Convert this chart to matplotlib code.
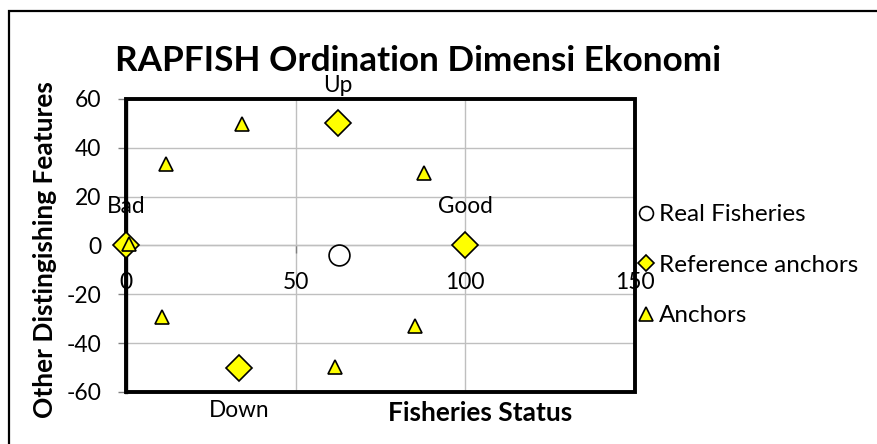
import matplotlib
matplotlib.use("Agg")
import matplotlib.pyplot as plt
from matplotlib.patches import Rectangle
from matplotlib.lines import Line2D

plt.rcParams['font.family'] = ['Lato', 'DejaVu Sans']
plt.rcParams['axes.unicode_minus'] = False

real_x = [62.9]
real_y = [-3.8]
ref_x = [0, 100, 62.4, 33.4]
ref_y = [0, 0, 50, -50]
ref_labels = ["Bad", "Good", "Up", "Down"]
anc_x = [1, 11.8, 34.3, 87.9, 10.5, 61.6, 85.1]
anc_y = [0.7, 33.5, 49.6, 29.8, -29.1, -49.9, -32.8]
xticks = [0, 50, 100, 150]
yticks = [-60, -40, -20, 0, 20, 40, 60]

fig = plt.figure(figsize=(8.77, 4.44), dpi=100)
fig.patches.append(Rectangle((9/877, -0.05), 1.2, 1 - 11/444 + 0.05, transform=fig.transFigure,
                             fill=False, edgecolor='black', lw=1.6))
ax = fig.add_axes([126/877, 1 - 392/444, (635 - 126)/877, (392 - 99)/444])
ax.set_xlim(0, 150)
ax.set_ylim(-60, 60)
ax.set_xticks(xticks)
ax.set_yticks(yticks)
ax.grid(True, color='#BFBFBF', lw=1.0)
ax.set_axisbelow(True)

for s in ['top', 'right']:
    ax.spines[s].set_visible(False)
ax.spines['left'].set_linewidth(2.4)
ax.spines['bottom'].set_position(('data', 0))
ax.spines['bottom'].set_color('#BFBFBF')
ax.spines['bottom'].set_linewidth(1.0)
ax.add_patch(Rectangle((0, 0), 1, 1, transform=ax.transAxes, fill=False,
                       edgecolor='black', lw=2.8, zorder=5, clip_on=False))

ax.tick_params(axis='y', direction='out', length=6, width=1, color='#808080',
               labelsize=16.5, pad=12)
ax.tick_params(axis='x', direction='out', length=6, width=1, color='#808080',
               labelsize=16.5, pad=13)

ax.plot(real_x, real_y, 'o', ms=15, mfc='white', mec='black', mew=1.2, zorder=6)
ax.plot(ref_x, ref_y, 'D', ms=13, mfc='#FFFF00', mec='black', mew=1.2,
        zorder=6, clip_on=False)
ax.plot(anc_x, anc_y, '^', ms=10, mfc='#FFFF00', mec='black', mew=1.2,
        zorder=7, clip_on=False)

offsets = {"Bad": (0, 28), "Good": (0, 28), "Up": (0, 27), "Down": (0, -31)}
for x, y, t in zip(ref_x, ref_y, ref_labels):
    ax.annotate(t, (x, y), xytext=offsets[t], textcoords='offset points',
                ha='center', va='center', fontsize=16.3, zorder=8)

ax.set_title("RAPFISH Ordination Dimensi Ekonomi", fontsize=25.3, fontweight='bold',
             pad=20, x=(418 - 126) / (635 - 126))
ax.set_xlabel("Fisheries Status", fontsize=19, fontweight='bold')
ax.xaxis.set_label_coords((480 - 126) / (635 - 126), (392 - 401) / (392 - 99))
ax.set_ylabel("Other Distingishing Features", fontsize=19, fontweight='bold')
ax.yaxis.set_label_coords((57 - 126) / (635 - 126), (392 - 250) / (392 - 99))

handles = [
    Line2D([], [], ls='none', marker='o', ms=10, mfc='white', mec='black', mew=1.2),
    Line2D([], [], ls='none', marker='D', ms=8, mfc='#FFFF00', mec='black', mew=1.2),
    Line2D([], [], ls='none', marker='^', ms=10, mfc='#FFFF00', mec='black', mew=1.2),
]
names = ['Real Fisheries', 'Reference anchors', 'Anchors']
leg = fig.legend(handles, names, loc='upper left', bbox_to_anchor=(636/877, 1 - 204/444),
                 frameon=False, fontsize=17.5, handletextpad=0.15, handlelength=0.8,
                 labelspacing=1.22, borderaxespad=0, borderpad=0)

fig.savefig("out.png", dpi=100)
